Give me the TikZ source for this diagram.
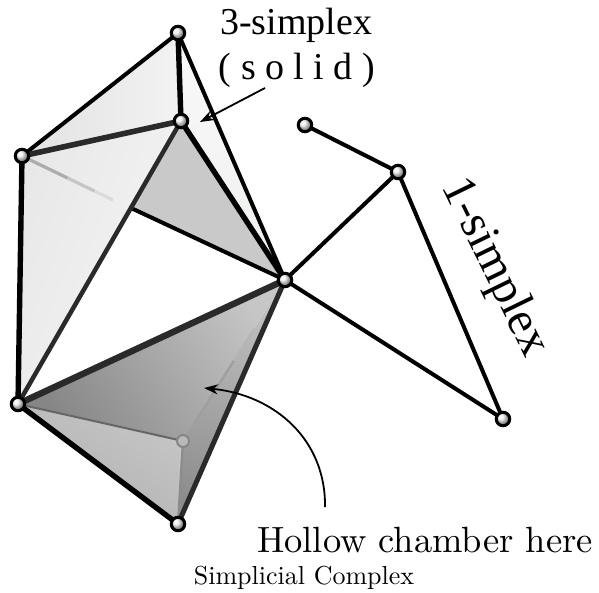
\documentclass[tikz,border=0pt]{standalone}
\usepackage{fontspec}
\newfontfamily\timesfont{Liberation Serif}
\newfontfamily\lmten{lmroman10-regular.otf}
\usetikzlibrary{arrows.meta,calc}
\definecolor{faceA}{HTML}{E2E2E2}
\definecolor{faceB}{HTML}{EEF0EE}
\definecolor{faceC}{HTML}{C9C9C9}
\definecolor{edgeD}{HTML}{2A2A2A}
\tikzset{
  vtx/.style={circle, draw=black, line width=3pt, inner sep=0pt, minimum size=13.5pt,
              ball color=white!85!gray, shading=ball},
  hidvtx/.style={circle, draw=gray!95, line width=2pt, inner sep=0pt, minimum size=12pt, fill=gray!55},
  edge/.style={line width=4pt, black, line cap=round},
  heavy/.style={line width=5.4pt, black, line cap=round},
  hidden/.style={line width=2.3pt, gray!110},
  pointer/.style={line width=1.8pt, -{Stealth[length=14pt,width=10pt]}},
}
\begin{document}
\begin{tikzpicture}[x=1pt,y=-1pt]
\useasboundingbox (0,0) rectangle (599,593);
% vertices
\coordinate (T) at (178,33);
\coordinate (M) at (181,121);
\coordinate (L) at (22,156);
\coordinate (C) at (285,280);
\coordinate (B) at (18,404);
\coordinate (D) at (178,524);
\coordinate (H) at (183,441);
\coordinate (P1) at (305,125);
\coordinate (P2) at (398,172);
\coordinate (P3) at (503,419);
\coordinate (X) at (131,208);
\coordinate (Lf) at (113,200);
% upper solid tetrahedron faces
\fill[faceC] (M) -- (L) -- (C) -- cycle;
\shade[left color=faceA, right color=gray!10] (T) -- (L) -- (M) -- cycle;
\shade[top color=gray!5, bottom color=faceB] (T) -- (M) -- (C) -- cycle;
% left triangle
\shade[left color=gray!18, right color=gray!8, shading angle=70] (L) -- (M) -- (B) -- cycle;
% hollow tetrahedron: back faces seen through the front face
\shade[top color=gray!45, bottom color=gray!95, shading angle=-55] (B) -- (C) -- (H) -- cycle;
\shade[top color=gray!45, bottom color=gray!62, shading angle=-30] (B) -- (H) -- (D) -- cycle;
\shade[top color=gray!48, bottom color=gray!90, shading angle=-15] (H) -- (C) -- (D) -- cycle;
% hidden edges
\draw[line width=2pt, gray!120] (B) -- (H);
\draw[hidden, gray!90] (H) -- (D);
\draw[hidden, gray!75] (H) -- ($(H)!0.5!(C)$);
\draw[line width=2pt, gray!58] ($(H)!0.5!(C)$) -- ($(H)!0.7!(C)$);
% faded edge behind the left triangle
\draw[line width=3.2pt, gray!65] (L) -- ($(L)!0.5!(Lf)$);
\draw[line width=3.2pt, gray!45] ($(L)!0.5!(Lf)$) -- ($(L)!0.8!(Lf)$);
\draw[line width=3.2pt, gray!28] ($(L)!0.8!(Lf)$) -- (Lf);
\draw[edge] (X) -- (C);
% visible edges
\draw[edge] (T) -- (L);
\draw[heavy] (T) -- (M);
\draw[edge] (T) -- (C);
\draw[heavy] (M) -- (C);
\draw[line width=5.6pt, edgeD] (L) -- (M);
\draw[line width=4.5pt, edgeD] (M) -- (B);
\draw[heavy] (L) -- (B);
\draw[line width=6.4pt, edgeD] (B) -- (C);
\draw[line width=5pt, edgeD] (C) -- (D);
\draw[heavy] (B) -- (D);
% 1-simplices
\draw[edge] (C) -- (P2);
\draw[edge] (C) -- (P3);
\draw[edge] (P2) -- (P3);
\draw[edge] (P1) -- (P2);
% vertex balls
\node[hidvtx] (h) at (H) {};
\foreach \v in {T,M,L,C,B,D,P1,P2,P3} \node[vtx] (n\v) at (\v) {};
% labels
\node[anchor=base, font=\timesfont\fontsize{38}{40}\selectfont, inner sep=0pt] (lab3) at (296,35) {3-simplex};
\node[anchor=base, font=\timesfont\fontsize{38}{40}\selectfont, inner sep=0pt] (labsolid) at (297,80) {( s o l i d )};
\node[rotate=-64, font=\timesfont\fontsize{48}{50}\selectfont, inner sep=0pt] (lab1) at (494,268) {1-simplex};
\node[anchor=base, font=\lmten\fontsize{36.5}{38}\selectfont, inner sep=0pt] (labhollow) at (425,552) {Hollow chamber here};
\node[anchor=base, font=\lmten\fontsize{26}{28}\selectfont, inner sep=0pt] (labcx) at (304,584) {Simplicial Complex};
% pointers
\coordinate (a1s) at (265,88);
\coordinate (a1e) at (200,122);
\draw[pointer] (a1s) -- (a1e);
\coordinate (a2s) at (325,507);
\coordinate (a2e) at (204,388);
\draw[pointer] (a2s) .. controls (326,440) and (275,395) .. (a2e);
\end{tikzpicture}
\end{document}
